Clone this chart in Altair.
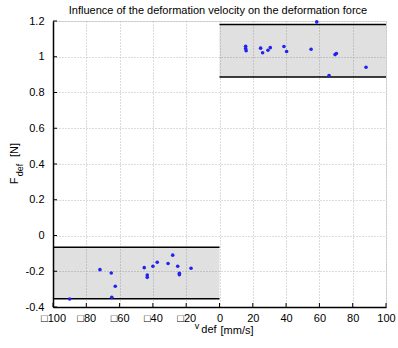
import altair as alt
import pandas as pd

# Data
pos_v = [15.7, 15.7, 16.0, 24.7, 25.9, 29.1, 30.5, 38.7, 40.3, 55.0, 58.4, 65.8, 69.4, 70.2, 88.0]
pos_f = [1.059, 1.046, 1.034, 1.048, 1.022, 1.036, 1.051, 1.057, 1.029, 1.042, 1.195, 0.895, 1.012, 1.018, 0.941]
neg_v = [-90.0, -71.8, -65.0, -64.7, -62.6, -45.2, -43.4, -43.4, -40.0, -37.4, -30.9, -28.1, -25.1, -24.1, -24.1, -17.1]
neg_f = [-0.355, -0.191, -0.210, -0.346, -0.284, -0.180, -0.221, -0.234, -0.172, -0.150, -0.157, -0.110, -0.172, -0.211, -0.219, -0.183]

band_x1 = [0, -100]
band_x2 = [100, 0]
band_lo = [0.887, -0.354]
band_hi = [1.180, -0.066]

x_ticks = [-100, -80, -60, -40, -20, 0, 20, 40, 60, 80, 100]
y_ticks = [-0.4, -0.2, 0, 0.2, 0.4, 0.6, 0.8, 1.0, 1.2]

FONT = "Liberation Sans"
W, H = 333, 286

pts = pd.DataFrame({"v": pos_v + neg_v, "f": pos_f + neg_f})
bands = pd.DataFrame({"x1": band_x1, "x2": band_x2, "lo": band_lo, "hi": band_hi})
lines = pd.DataFrame({
    "x1": band_x1 + band_x1,
    "x2": band_x2 + band_x2,
    "y": band_lo + band_hi,
})
xt_df = pd.DataFrame({"t": x_ticks})
yt_df = pd.DataFrame({"t": y_ticks})

xscale = alt.Scale(domain=[-100, 100], nice=False, zero=False)
yscale = alt.Scale(domain=[-0.4, 1.2], nice=False, zero=False)

common = dict(
    title=None, grid=True, gridDash=[1, 2], gridColor="#b8b8b8",
    domainColor="black", domainWidth=1.5, ticks=False,
    labelFont=FONT, labelFontSize=11, labelColor="black",
    labelOverlap=False, labelFlush=False, labelBound=False,
)
xaxis = alt.Axis(
    values=x_ticks, labelPadding=5,
    labelExpr="datum.value < 0 ? '\u25a1' + format(-datum.value, 'd') : format(datum.value, 'd')",
    **common,
)
yaxis = alt.Axis(
    values=y_ticks, labelPadding=9,
    labelExpr="datum.value < 0 ? '-' + format(-datum.value, '~g') : format(datum.value, '~g')",
    **common,
)

rects = alt.Chart(bands).mark_rect(color="black", opacity=0.12).encode(
    x=alt.X("x1:Q", scale=xscale, axis=xaxis),
    x2="x2:Q",
    y=alt.Y("lo:Q", scale=yscale, axis=yaxis),
    y2="hi:Q",
)

rules = alt.Chart(lines).mark_rule(color="black", strokeWidth=1.5).encode(
    x=alt.X("x1:Q", scale=xscale, axis=xaxis),
    x2="x2:Q",
    y=alt.Y("y:Q", scale=yscale, axis=yaxis),
)

# inward tick marks
xticks_m = alt.Chart(xt_df).mark_rule(color="black", strokeWidth=1).encode(
    x=alt.X("t:Q", scale=xscale, axis=xaxis),
    y=alt.value(H),
    y2=alt.value(H - 4),
)
yticks_m = alt.Chart(yt_df).mark_rule(color="black", strokeWidth=1).encode(
    y=alt.Y("t:Q", scale=yscale, axis=yaxis),
    x=alt.value(0),
    x2=alt.value(4),
)

points = alt.Chart(pts).mark_circle(size=13, color="#2222ee", opacity=1).encode(
    x=alt.X("v:Q", scale=xscale, axis=xaxis),
    y=alt.Y("f:Q", scale=yscale, axis=yaxis),
)

L, T = 53, 21

def txt(s, x, y, size=11, angle=0, align="center"):
    return alt.Chart(pd.DataFrame({"t": [s]})).mark_text(
        font=FONT, fontSize=size, color="black", angle=angle, align=align, baseline="middle"
    ).encode(text="t:N", x=alt.value(x - L), y=alt.value(y - T))

title = txt("Influence of the deformation velocity on the deformation force", 218, 11, 11)
xt1 = txt("v", 197, 326, 9, align="center")
xt2 = txt("def", 209, 330, 11, align="center")
xt3 = txt("[mm/s]", 237, 331, 11, align="center")
yt1 = txt("F", 15, 181, 11, angle=270)
yt2 = txt("def", 20, 170, 9, angle=270)
yt3 = txt("[N]", 15, 150, 11, angle=270)

chart = alt.layer(
    rects, rules, xticks_m, yticks_m, points, title, xt1, xt2, xt3, yt1, yt2, yt3
).properties(
    width=W, height=H,
    autosize=alt.AutoSizeParams(type="none"),
    padding={"left": L, "top": T, "right": 12, "bottom": 41},
).configure_view(stroke=None).configure(background="white")

chart.save("out.html", embed_options={"renderer": "svg", "actions": False})
